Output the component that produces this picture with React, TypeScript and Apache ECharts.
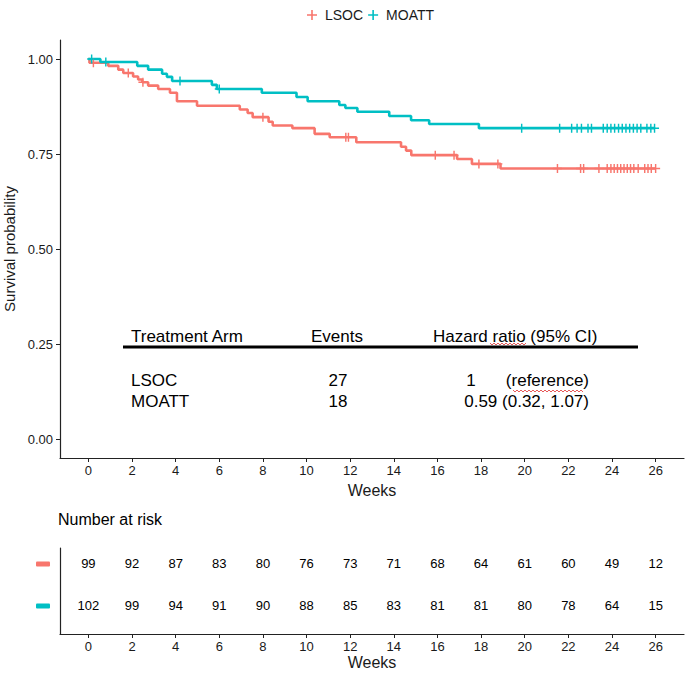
import React, { useEffect, useRef } from "react";
import * as echarts from "echarts";

// Kaplan-Meier step data: event times (weeks) and survival after each event
const lsocTimes = [0, 0.05, 0.91, 1.37, 1.6, 2.05, 2.28, 2.47, 2.74, 3.2, 3.74, 4.06, 4.98, 6.94, 7.3, 7.53, 8.26, 8.45, 9.35, 10.37, 11.06, 12.28, 14.33, 14.56, 14.8, 16.9, 17.58, 18.89];
const lsocSurv = [1, 0.99, 0.982, 0.972, 0.963, 0.954, 0.946, 0.939, 0.93, 0.921, 0.911, 0.889, 0.877, 0.867, 0.858, 0.847, 0.835, 0.825, 0.818, 0.803, 0.794, 0.781, 0.769, 0.759, 0.747, 0.737, 0.724, 0.712];
const lsocCensor = [0.23, 1.83, 2.5, 8.0, 11.8, 11.92, 15.9, 16.76, 17.9, 18.77, 21.5, 22.56, 22.7, 23.4, 23.78, 23.95, 24.1, 24.25, 24.4, 24.55, 24.7, 24.85, 25.0, 25.2, 25.5, 25.65, 25.8, 26.0];

const moattTimes = [0, 0.55, 2.24, 2.74, 3.38, 3.6, 3.84, 5.66, 5.89, 7.95, 9.54, 10.05, 11.5, 11.78, 12.33, 13.79, 14.79, 15.62, 17.9];
const moattSurv = [1, 0.992, 0.982, 0.972, 0.961, 0.953, 0.942, 0.932, 0.921, 0.911, 0.9, 0.889, 0.879, 0.871, 0.861, 0.85, 0.839, 0.829, 0.818];
const moattCensor = [0.15, 0.8, 4.2, 6.0, 19.86, 21.6, 22.15, 22.4, 22.6, 22.9, 23.06, 23.6, 23.78, 23.95, 24.12, 24.3, 24.47, 24.64, 24.81, 24.98, 25.15, 25.32, 25.6, 25.78, 25.95];

// Number at risk table
const weekTicks = [0, 2, 4, 6, 8, 10, 12, 14, 16, 18, 20, 22, 24, 26];
const lsocRisk = [99, 92, 87, 83, 80, 76, 73, 71, 68, 64, 61, 60, 49, 12];
const moattRisk = [102, 99, 94, 91, 90, 88, 85, 83, 81, 81, 80, 78, 64, 15];

const survTicks = [0, 0.25, 0.5, 0.75, 1];

// Inset summary table
const tableHeader = ["Treatment Arm", "Events", "Hazard ratio (95% CI)"];
const tableArms = ["LSOC", "MOATT"];
const tableEvents = ["27", "18"];
const tableHR = ["1", "0.59 (0.32, 1.07)"];
const tableCI = ["(reference)", ""];

const ARMS = ["LSOC", "MOATT"];
const COLORS = ["#F8766D", "#00BFC4"];
const FONT = "'Liberation Sans', Arial, sans-serif";
const INK = "#1a1a1a";

const PLUS = "path://M4.2,0H5.8V10H4.2Z M0,4.2H10V5.8H0Z";

function survivalAt(times: number[], surv: number[], t: number) {
  let s = surv[0];
  for (let i = 0; i < times.length; i++) if (times[i] <= t) s = surv[i];
  return s;
}

function stepCurve(times: number[], surv: number[], end: number) {
  const pts = times.map((t, i) => [t, surv[i]]);
  pts.push([end, surv[surv.length - 1]]);
  return pts;
}

function squiggle(x0: number, x1: number, y: number) {
  const pts: number[][] = [];
  let k = 0;
  for (let x = x0; x <= x1; x += 2, k++) pts.push([x, k % 2 === 0 ? y : y + 2]);
  return pts;
}

export default function App() {
  const ref = useRef<HTMLDivElement>(null);

  useEffect(() => {
    if (!ref.current) return;
    const chart = echarts.init(ref.current, undefined, { renderer: "svg" });

    const curves = [
      { times: lsocTimes, surv: lsocSurv, censor: lsocCensor },
      { times: moattTimes, surv: moattSurv, censor: moattCensor },
    ];

    const lineSeries = curves.map((c, i) => ({
      name: ARMS[i],
      type: "line",
      step: "end",
      xAxisIndex: 0,
      yAxisIndex: 0,
      showSymbol: false,
      symbol: "none",
      lineStyle: { color: COLORS[i], width: 2.6 },
      itemStyle: { color: COLORS[i] },
      data: stepCurve(c.times, c.surv, c.censor[c.censor.length - 1]),
      z: 3,
    }));

    const censorSeries = curves.map((c, i) => ({
      name: ARMS[i],
      type: "scatter",
      xAxisIndex: 0,
      yAxisIndex: 0,
      symbol: PLUS,
      symbolSize: 9,
      itemStyle: { color: COLORS[i], opacity: 1 },
      data: c.censor.map((t) => [t, survivalAt(c.times, c.surv, t)]),
      z: 4,
    }));

    const riskRows = [lsocRisk, moattRisk];
    const riskSeries = riskRows.map((row, i) => ({
      name: ARMS[i] + " at risk",
      type: "scatter",
      xAxisIndex: 1,
      yAxisIndex: 1,
      symbolSize: 0,
      itemStyle: { color: "#ffffff", opacity: 1 },
      label: {
        show: true,
        position: "inside",
        formatter: (p: any) => String(p.value[2]),
        fontSize: 13,
        fontFamily: FONT,
        color: "#000",
        opacity: 1,
        textBorderWidth: 0,
      },
      emphasis: { disabled: true },
      data: row.map((v, k) => [weekTicks[k], i === 0 ? 1 : 0, v]),
    }));

    const axisLine = { show: true, onZero: false, lineStyle: { color: "#222", width: 1.2 } };

    const xAxisCommon = {
      type: "value",
      min: -1.3,
      max: 27.3,
      axisLine,
      axisTick: { show: true, length: 4, customValues: weekTicks, lineStyle: { color: "#222" } },
      axisLabel: { customValues: weekTicks, fontSize: 13, fontFamily: FONT, color: INK, margin: 6 },
      splitLine: { show: false },
      name: "Weeks",
      nameLocation: "middle",
      nameTextStyle: { fontSize: 16, fontFamily: FONT, color: INK },
    };

    const txt = (text: string, x: number, y: number, align = "left") => ({
      type: "text",
      x,
      y,
      style: { text, fill: "#000", font: `17px ${FONT}`, align, verticalAlign: "middle" },
    });

    const colX = [131, 311, 433];
    const rowY = [380, 401];

    chart.setOption({
      animation: false,
      backgroundColor: "#fff",
      legend: {
        data: ARMS.map((name) => ({ name, icon: PLUS })),
        top: 3,
        left: 302,
        itemWidth: 16,
        itemHeight: 10,
        itemGap: 5,
        textStyle: { fontSize: 14, fontFamily: FONT, color: INK },
      },
      grid: [
        { left: 60, right: 4, top: 40, height: 418, outerBoundsMode: "none" },
        { left: 60, right: 4, top: 548, height: 86, outerBoundsMode: "none" },
      ],
      xAxis: [
        { ...xAxisCommon, gridIndex: 0, nameGap: 24 },
        { ...xAxisCommon, gridIndex: 1, nameGap: 20 },
      ],
      yAxis: [
        {
          type: "value",
          gridIndex: 0,
          min: -0.05,
          max: 1.05,
          axisLine,
          axisTick: { show: true, length: 4, customValues: survTicks, lineStyle: { color: "#222" } },
          axisLabel: {
            customValues: survTicks,
            formatter: (v: number) => v.toFixed(2),
            fontSize: 13,
            fontFamily: FONT,
            color: INK,
            margin: 7,
          },
          splitLine: { show: false },
          name: "Survival probability",
          nameLocation: "middle",
          nameGap: 35,
          nameTextStyle: { fontSize: 15, fontFamily: FONT, color: INK },
        },
        {
          type: "value",
          gridIndex: 1,
          min: -0.667,
          max: 1.381,
          axisLine,
          axisTick: { show: false },
          axisLabel: {
            customValues: [0, 1],
            margin: 10,
            formatter: (v: number) => (v === 1 ? "{a|}" : "{b|}"),
            rich: {
              a: { backgroundColor: COLORS[0], width: 14, height: 5, borderRadius: 1 },
              b: { backgroundColor: COLORS[1], width: 14, height: 5, borderRadius: 1 },
            },
          },
          splitLine: { show: false },
        },
      ],
      graphic: [
        {
          type: "text",
          x: 58,
          y: 519,
          style: { text: "Number at risk", fill: "#000", font: `16px ${FONT}`, verticalAlign: "middle" },
        },
        txt(tableHeader[0], colX[0], 336),
        txt(tableHeader[1], colX[1], 336),
        txt(tableHeader[2], colX[2], 336),
        {
          type: "line",
          shape: { x1: 123, y1: 347, x2: 638, y2: 347 },
          style: { stroke: "#000", lineWidth: 3 },
        },
        ...tableArms.map((a, i) => txt(a, colX[0], rowY[i])),
        ...tableEvents.map((e, i) => txt(e, 338, rowY[i], "center")),
        txt(tableHR[0], 471, rowY[0], "center"),
        txt(tableCI[0], 589, rowY[0], "right"),
        txt(tableHR[1], 589, rowY[1], "right"),
        {
          type: "polyline",
          shape: { points: squiggle(490, 526, 343) },
          style: { stroke: "#e03030", lineWidth: 0.8, fill: null },
        },
        {
          type: "polyline",
          shape: { points: squiggle(513, 584, 390) },
          style: { stroke: "#e03030", lineWidth: 0.8, fill: null },
        },
      ],
      series: [...lineSeries, ...censorSeries, ...riskSeries],
    });

    return () => chart.dispose();
  }, []);

  return <div ref={ref} style={{ width: 688, height: 676, position: "absolute", left: 0, top: 0 }} />;
}
